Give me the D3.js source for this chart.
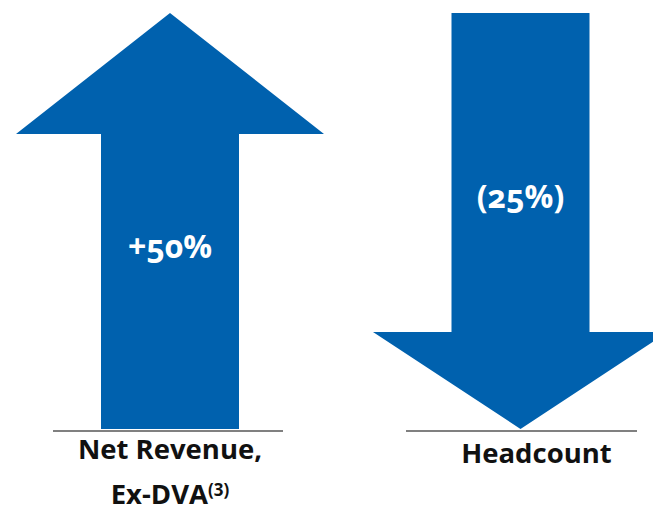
<!DOCTYPE html>
<html>
<head>
<meta charset="utf-8">
<script src="https://cdn.jsdelivr.net/npm/d3@7"></script>
<style>
  html, body { margin: 0; padding: 0; background: #fff; }
  svg { display: block; font-family: "Open Sans", "Lato", sans-serif; }
</style>
</head>
<body>
<svg id="chart" width="653" height="511"></svg>
<script>
// Two direction arrows: Net Revenue up, Headcount down
const categories = ['Net Revenue, Ex-DVA', 'Headcount'];
const changes = [50, -25];                 // percent change
const valueLabels = ['+50%', '(25%)'];
const labelLines = [['Net Revenue,', 'Ex-DVA'], ['Headcount']];
const labelNotes = ['(3)', ''];

const W = 653, H = 511;
const blue = '#0061ae';

const svg = d3.select('#chart');

// x: arrow centre per category
const x = d3.scalePoint().domain(categories).range([170, 520.5]);
// y: arrow extent, 0 = base line, 1 = top
const y = d3.scaleLinear().domain([0, 1]).range([429, 13]);

const shaftW = 138;
const headW = [308, 295];
const headH = [121, 97];

function arrowPath(d, i) {
    const cx = x(d.cat), up = d.value >= 0;
    const yb = y(0), yt = y(1), hw = headW[i] / 2, sw = shaftW / 2, hh = headH[i];
    if (up) {
        return `M${cx},${yt} L${cx + hw},${yt + hh} L${cx + sw},${yt + hh} L${cx + sw},${yb}
                L${cx - sw},${yb} L${cx - sw},${yt + hh} L${cx - hw},${yt + hh} Z`;
    }
    return `M${cx - sw},${yt} L${cx + sw},${yt} L${cx + sw},${yb - hh} L${cx + hw},${yb - hh}
            L${cx},${yb} L${cx - hw},${yb - hh} L${cx - sw},${yb - hh} Z`;
}

const rows = categories.map((c, i) => ({ cat: c, value: changes[i], label: valueLabels[i] }));

// base lines
const baseSpan = [[53, 283], [406, 637]];
svg.selectAll('.base').data(rows).enter().append('line')
    .attr('class', 'base')
    .attr('x1', (d, i) => baseSpan[i][0])
    .attr('x2', (d, i) => baseSpan[i][1])
    .attr('y1', y(0) + 2).attr('y2', y(0) + 2)
    .attr('stroke', '#808080').attr('stroke-width', 2);

svg.selectAll('.arrow').data(rows).enter().append('path')
    .attr('class', 'arrow')
    .attr('d', arrowPath)
    .attr('fill', blue);

// value labels inside shafts
const valueY = [258, 208];
svg.selectAll('.val').data(rows).enter().append('text')
    .attr('class', 'val')
    .attr('x', d => x(d.cat))
    .attr('y', (d, i) => valueY[i])
    .attr('text-anchor', 'middle')
    .attr('fill', '#fff')
    .style('font-size', '32px')
    .style('font-weight', 700)
    .style('font-variant-numeric', 'oldstyle-nums')
    .text(d => d.label);

// category labels below
const labelY = [[459, 504], [463]];
const labelDx = [0, 16];
rows.forEach((d, i) => {
    labelLines[i].forEach((line, j) => {
        const t = svg.append('text')
            .attr('x', x(d.cat) + labelDx[i])
            .attr('y', labelY[i][j])
            .attr('text-anchor', 'middle')
            .attr('fill', '#111')
            .style('font-size', '27.5px')
            .style('font-weight', 700);
        t.append('tspan').text(line);
        if (j === labelLines[i].length - 1 && labelNotes[i]) {
            t.append('tspan')
                .attr('dy', -8)
                .style('font-size', '17px')
                .text(labelNotes[i]);
        }
    });
});
</script>
</body>
</html>
